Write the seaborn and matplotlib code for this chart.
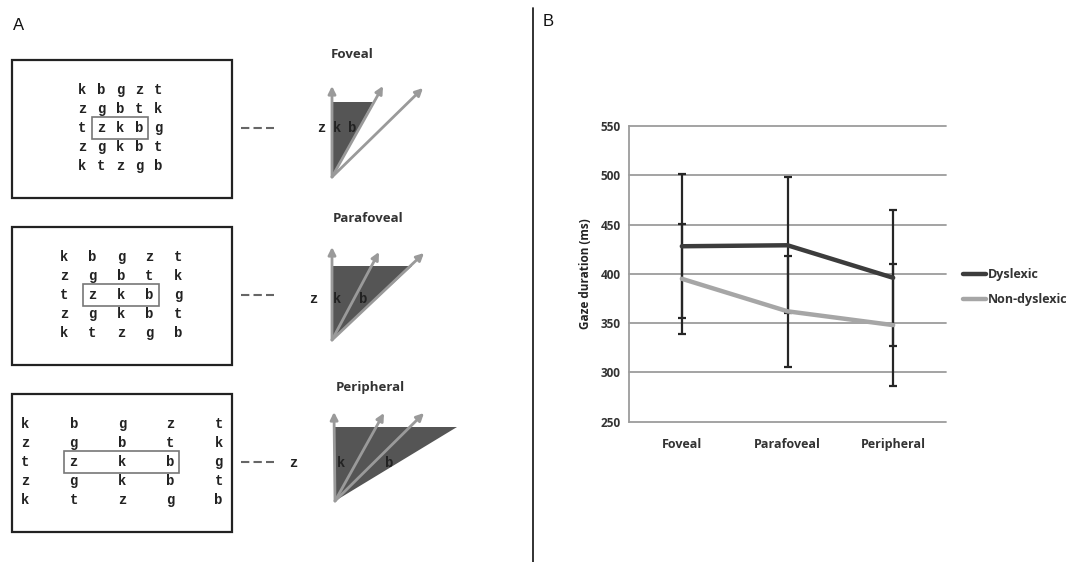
import numpy as np
import pandas as pd
import matplotlib
matplotlib.use("Agg")
import matplotlib.pyplot as plt
import seaborn as sns
from matplotlib.patches import Rectangle, Polygon, FancyArrowPatch
from matplotlib.lines import Line2D

# ---- data -------------------------------------------------------------
conditions = ["Foveal", "Parafoveal", "Peripheral"]
groups = ["Dyslexic", "Non-dyslexic"]
dyslexic_mean = [428, 429, 396]
dyslexic_sd = [73, 69, 69]
nondyslexic_mean = [395, 362, 348]
nondyslexic_sd = [56, 56, 62]
y_ticks = [250, 300, 350, 400, 450, 500, 550]

letter_grid = [
    ["k", "b", "g", "z", "t"],
    ["z", "g", "b", "t", "k"],
    ["t", "z", "k", "b", "g"],
    ["z", "g", "k", "b", "t"],
    ["k", "t", "z", "g", "b"],
]
target_letters = ["z", "k", "b"]

# ---- style ------------------------------------------------------------
sns.set_theme(style="white")
plt.rcParams["font.family"] = ["Open Sans", "DejaVu Sans"]

W, H = 1082, 562
fig = plt.figure(figsize=(W / 100, H / 100), dpi=100)

# pixel-space canvas for panel A, panel letters and divider
canvas = fig.add_axes([0, 0, 1, 1])
canvas.set_xlim(0, W)
canvas.set_ylim(H, 0)
canvas.axis("off")

canvas.text(19, 25, "A", fontsize=12, family="Liberation Sans", va="center", ha="center", color="#111")
canvas.text(548, 22, "B", fontsize=12, family="Liberation Sans", va="center", ha="center", color="#111")
canvas.plot([533, 533], [8, H], color="#222", lw=1.3)

# ---- panel A: letter displays and visual-span sketches -----------------
dark = "#222222"
arrow_grey = "#9a9a9a"
wedge_grey = "#555555"

panels = [
    dict(top=60, dx=19.0, cx=120, title=conditions[0], tpos=(352, 55),
         apex=(332, 177), ty=102, rx=373,
         tips=[(332, 86), (383, 86), (423, 88)], lx=[321, 337, 352], ly=128),
    dict(top=227, dx=28.5, cx=121, title=conditions[1], tpos=(368, 219),
         apex=(332, 340), ty=266, rx=412,
         tips=[(332, 247), (379, 252), (424, 253)], lx=[313, 337, 363], ly=299),
    dict(top=394, dx=48.3, cx=122, title=conditions[2], tpos=(370, 388),
         apex=(335, 501), ty=427, rx=457,
         tips=[(334, 412), (384, 413), (424, 413)], lx=[293, 341, 389], ly=463),
]

box_left, box_right, box_h, row_dy = 12, 232, 138, 19.0
mono = dict(family="Liberation Mono", fontweight="bold", fontsize=10, color=dark,
            ha="center", va="center")

for p in panels:
    top = p["top"]
    canvas.add_patch(Rectangle((box_left, top), box_right - box_left, box_h,
                               fill=False, ec=dark, lw=1.6))
    mid_y = top + box_h / 2 - 1
    for r, row in enumerate(letter_grid):
        for c, ch in enumerate(row):
            canvas.text(p["cx"] + (c - 2) * p["dx"], mid_y + (r - 2) * row_dy, ch, **mono)
    x0 = p["cx"] - p["dx"] - 9.5
    x1 = p["cx"] + p["dx"] + 9
    canvas.add_patch(Rectangle((x0, mid_y - 11), x1 - x0, 22, fill=False, ec="#777", lw=1.2))
    canvas.plot([241, 274], [mid_y, mid_y], color="#666", lw=1.5, ls=(0, (4, 2)))

    canvas.text(*p["tpos"], p["title"], fontsize=9.5, fontweight="bold", color="#333",
                ha="center", va="center")
    ax_, ay_ = p["apex"]
    canvas.add_patch(Polygon([(ax_, ay_), (ax_, p["ty"]), (p["rx"], p["ty"])],
                             closed=True, fc=wedge_grey, ec="none"))
    for tx, ty in p["tips"]:
        canvas.add_patch(FancyArrowPatch((ax_, ay_), (tx, ty), arrowstyle="-|>",
                                         mutation_scale=11, color=arrow_grey, lw=2,
                                         shrinkA=0, shrinkB=0))
    for ch, x in zip(target_letters, p["lx"]):
        canvas.text(x, p["ly"], ch, **mono)

# ---- panel B: gaze duration -------------------------------------------
left, right, ytop, ybot = 629, 946, 126, 421.7
ax = fig.add_axes([left / W, 1 - ybot / H, (right - left) / W, (ybot - ytop) / H])

df = pd.DataFrame({
    "pos": list(range(3)) * 2,
    "condition": conditions * 2,
    "group": [groups[0]] * 3 + [groups[1]] * 3,
    "gaze": dyslexic_mean + nondyslexic_mean,
    "sd": dyslexic_sd + nondyslexic_sd,
})
colors = {groups[0]: "#3c3c3c", groups[1]: "#a6a6a6"}

ax.errorbar(df["pos"], df["gaze"], yerr=df["sd"], fmt="none", ecolor="#262626",
            elinewidth=1.6, capsize=3, capthick=1.6, zorder=3)
sns.lineplot(data=df, x="pos", y="gaze", hue="group", palette=colors, ax=ax,
             linewidth=3.2, legend=False, zorder=4)

ax.set_xlim(-0.5, 2.5)
ax.set_ylim(250, 550)
ax.set_yticks(y_ticks)
ax.set_xticks(range(3))
ax.set_xticklabels(conditions)
ax.yaxis.grid(True, color="#9c9c9c", lw=1.3)
ax.xaxis.grid(False)
for gl in ax.get_ygridlines():
    gl.set_clip_on(False)
for s in ["top", "right", "bottom"]:
    ax.spines[s].set_visible(False)
ax.spines["left"].set_color("#9c9c9c")
ax.spines["left"].set_linewidth(1.3)
ax.tick_params(length=0, pad=6, labelsize=8.5, labelcolor="#333")
for t in ax.get_yticklabels():
    t.set_fontweight("bold")
for t in ax.get_xticklabels():
    t.set_fontweight("bold")
    t.set_fontsize(9)
ax.tick_params(axis="x", pad=12)
ax.set_xlabel("")
ax.set_ylabel("Gaze duration (ms)", fontsize=8.5, fontweight="bold", color="#222", labelpad=6)

handles = [Line2D([], [], color=colors[g], lw=3.2) for g in groups]
ax.legend(handles, groups, loc="center left", bbox_to_anchor=(963 / W, 1 - 287 / H),
          bbox_transform=fig.transFigure, frameon=False, handlelength=1.8,
          handletextpad=0.2, labelspacing=0.95, borderpad=0, borderaxespad=0,
          prop=dict(size=9, weight="bold"), labelcolor="#333")

fig.savefig("out.png", dpi=100, facecolor="white")
